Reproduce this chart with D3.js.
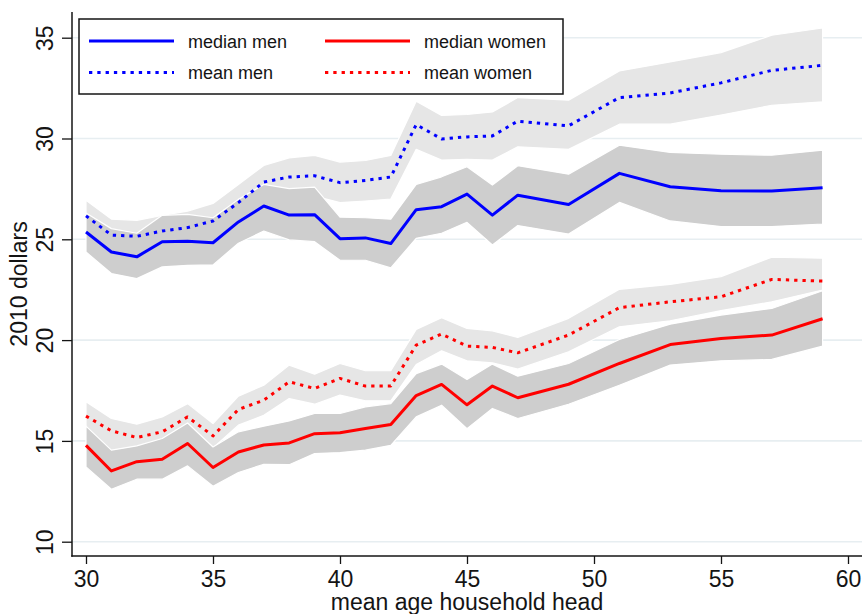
<!DOCTYPE html>
<html>
<head>
<meta charset="utf-8">
<script src="https://cdn.jsdelivr.net/npm/d3@7"></script>
<style>
  html, body { margin: 0; padding: 0; background: #fff; }
  svg { display: block; font-family: "Liberation Sans", Arial, Helvetica, sans-serif; }
</style>
</head>
<body>
<svg id="chart" width="862" height="614"></svg>
<script>
// Mean age of household head
const ages = [30,31,32,33,34,35,36,37,38,39,40,41,42,43,44,45,46,47,49,51,53,55,57,59];

// Men: median and mean wage with confidence bounds (2010 dollars)
const medianMen   = [25.36,24.37,24.13,24.88,24.90,24.83,25.86,26.65,26.20,26.22,25.03,25.07,24.79,26.47,26.62,27.24,26.20,27.19,26.73,28.27,27.61,27.41,27.39,27.56];
const medianMenHi = [26.30,25.53,25.30,26.19,26.24,26.07,26.98,27.72,27.51,27.59,26.10,26.07,26.00,27.72,28.10,28.60,27.69,28.65,28.23,29.67,29.31,29.22,29.17,29.42];
const medianMenLo = [24.37,23.30,23.05,23.63,23.71,23.73,24.80,25.41,24.97,24.88,23.96,23.96,23.58,25.05,25.30,25.84,24.72,25.68,25.26,26.83,25.91,25.63,25.63,25.76];
const meanMen     = [26.16,25.21,25.15,25.41,25.58,25.91,26.82,27.84,28.09,28.15,27.81,27.92,28.09,30.69,29.98,30.08,30.13,30.86,30.63,32.03,32.26,32.76,33.38,33.63];
const meanMenHi   = [26.93,26.00,25.94,26.19,26.40,26.78,27.72,28.66,29.04,29.16,28.83,28.91,29.16,31.85,31.14,31.19,31.32,32.03,31.90,33.35,33.80,34.26,35.12,35.48];
const meanMenLo   = [25.39,24.40,24.35,24.60,24.75,25.00,25.90,27.00,27.10,27.15,26.82,26.90,27.00,29.46,28.93,28.96,28.93,29.59,29.46,30.71,30.71,31.16,31.65,31.82];

// Women: median and mean wage with confidence bounds (2010 dollars)
const medianWomen   = [14.78,13.51,13.97,14.09,14.87,13.68,14.45,14.80,14.90,15.36,15.40,15.61,15.81,17.25,17.80,16.79,17.72,17.14,17.81,18.84,19.78,20.08,20.25,21.06];
const medianWomenHi = [15.73,14.54,14.75,15.12,15.89,14.70,15.45,15.73,15.99,16.36,16.36,16.69,16.85,18.34,18.81,18.05,18.81,18.21,18.84,20.03,20.79,21.24,21.57,22.45];
const medianWomenLo = [13.71,12.60,13.10,13.10,13.76,12.75,13.43,13.84,13.82,14.37,14.42,14.54,14.78,16.19,16.77,15.61,16.61,16.11,16.82,17.76,18.76,18.97,19.04,19.70];
const meanWomen     = [16.23,15.50,15.17,15.45,16.19,15.25,16.56,17.02,17.93,17.60,18.10,17.72,17.72,19.75,20.30,19.70,19.64,19.37,20.25,21.61,21.90,22.15,23.01,22.93];
const meanWomenHi   = [16.94,16.11,15.83,16.19,16.85,15.86,17.22,17.76,18.76,18.31,18.84,18.48,18.48,20.53,21.11,20.58,20.46,20.13,21.08,22.52,22.76,23.15,24.11,24.06];
const meanWomenLo   = [15.60,14.50,14.70,15.05,15.85,14.65,15.78,16.27,17.10,16.82,17.27,16.99,16.99,18.79,19.47,18.97,18.87,18.56,19.42,20.66,20.96,21.46,21.90,22.48];

// Axis ticks
const xTicks = [30,35,40,45,50,55,60];
const yTicks = [10,15,20,25,30,35];

const legendLabels = ["median men", "median women", "mean men", "mean women"];

// Layout
const plot = { left: 72, top: 12, right: 862, bottom: 556 };
const x = d3.scaleLinear().domain([30, 60]).range([86, 848]);
const y = d3.scaleLinear().domain([10, 35]).range([541.7, 37.7]);

const BLUE = "#0000ff", RED = "#ff0000";
const BAND_MEAN = "#e6e6e6", BAND_MEDIAN = "#cecece";
const GRID = "#e7eef1";
const INK = "#141414";

const svg = d3.select("#chart");

// Horizontal grid
svg.append("g").selectAll("line").data(yTicks).join("line")
  .attr("x1", plot.left).attr("x2", plot.right)
  .attr("y1", d => y(d)).attr("y2", d => y(d))
  .attr("stroke", GRID).attr("stroke-width", 1.6);

// Confidence bands
const area = (lo, hi) => d3.area()
  .x((d, i) => x(ages[i]))
  .y0((d, i) => y(lo[i]))
  .y1((d, i) => y(hi[i]))(ages);

const bands = [
  { lo: meanMenLo,     hi: meanMenHi,     fill: BAND_MEAN },
  { lo: medianMenLo,   hi: medianMenHi,   fill: BAND_MEDIAN },
  { lo: meanWomenLo,   hi: meanWomenHi,   fill: BAND_MEAN },
  { lo: medianWomenLo, hi: medianWomenHi, fill: BAND_MEDIAN }
];
svg.append("g").selectAll("path").data(bands).join("path")
  .attr("d", b => area(b.lo, b.hi))
  .attr("fill", b => b.fill)
  .attr("stroke", "#ffffff").attr("stroke-width", 1.2)
  .attr("stroke-linejoin", "round");

// Series lines
const line = vals => d3.line()
  .x((d, i) => x(ages[i]))
  .y((d, i) => y(vals[i]))(ages);

const series = [
  { vals: medianMen,   color: BLUE, dash: null },
  { vals: meanMen,     color: BLUE, dash: "3.3,5" },
  { vals: medianWomen, color: RED,  dash: null },
  { vals: meanWomen,   color: RED,  dash: "3.3,5" }
];
svg.append("g").selectAll("path").data(series).join("path")
  .attr("d", s => line(s.vals))
  .attr("fill", "none")
  .attr("stroke", s => s.color)
  .attr("stroke-width", 3)
  .attr("stroke-linejoin", "round")
  .attr("stroke-dasharray", s => s.dash);

// Y axis
const gy = svg.append("g").attr("transform", `translate(${plot.left},0)`)
  .call(d3.axisLeft(y).tickValues(yTicks).tickSize(10).tickSizeOuter(0).tickFormat(d3.format("d")));
gy.select(".domain").remove();
gy.selectAll(".tick line").attr("stroke", INK).attr("stroke-width", 1.3);
gy.selectAll(".tick text")
  .attr("transform", "rotate(-90)")
  .attr("x", 0).attr("y", -19).attr("dy", 0)
  .attr("text-anchor", "middle")
  .attr("fill", INK)
  .style("font-size", "23px")
  .style("font-family", "'Liberation Sans', Arial, sans-serif");

// X axis
const gx = svg.append("g").attr("transform", `translate(0,${plot.bottom})`)
  .call(d3.axisBottom(x).tickValues(xTicks).tickSize(8).tickSizeOuter(0).tickFormat(d3.format("d")));
gx.select(".domain").remove();
gx.selectAll(".tick line").attr("stroke", INK).attr("stroke-width", 1.3);
gx.selectAll(".tick text")
  .attr("y", 30.5).attr("dy", 0)
  .attr("fill", INK)
  .style("font-size", "23px")
  .style("font-family", "'Liberation Sans', Arial, sans-serif");

// Axis lines
svg.append("line").attr("x1", plot.left).attr("x2", plot.left)
  .attr("y1", plot.top).attr("y2", plot.bottom + 0.7)
  .attr("stroke", INK).attr("stroke-width", 1.5);
svg.append("line").attr("x1", plot.left - 0.7).attr("x2", plot.right)
  .attr("y1", plot.bottom).attr("y2", plot.bottom)
  .attr("stroke", INK).attr("stroke-width", 1.5);

// Axis titles
svg.append("text")
  .attr("transform", "translate(26.5,284) rotate(-90)")
  .attr("text-anchor", "middle")
  .attr("fill", INK).style("font-size", "23px")
  .text("2010 dollars");
svg.append("text")
  .attr("x", 467).attr("y", 610)
  .attr("text-anchor", "middle")
  .attr("fill", INK).style("font-size", "23px")
  .text("mean age household head");

// Legend
const lg = svg.append("g").attr("transform", "translate(79,19)");
lg.append("rect").attr("width", 484).attr("height", 75)
  .attr("fill", "#fff").attr("stroke", INK).attr("stroke-width", 1.5);
const legendItems = [
  { label: legendLabels[0], color: BLUE, dash: null,    col: 0, row: 0 },
  { label: legendLabels[1], color: RED,  dash: null,    col: 1, row: 0 },
  { label: legendLabels[2], color: BLUE, dash: "3.3,5", col: 0, row: 1 },
  { label: legendLabels[3], color: RED,  dash: "3.3,5", col: 1, row: 1 }
];
const li = lg.selectAll("g.item").data(legendItems).join("g")
  .attr("class", "item")
  .attr("transform", d => `translate(${10 + d.col * 236},${22 + d.row * 31.5})`);
li.append("line").attr("x1", 0).attr("x2", 85).attr("y1", 0).attr("y2", 0)
  .attr("stroke", d => d.color).attr("stroke-width", 3)
  .attr("stroke-dasharray", d => d.dash);
li.append("text").attr("x", 99).attr("y", 6.5)
  .attr("fill", INK).style("font-size", "18px")
  .text(d => d.label);
</script>
</body>
</html>
